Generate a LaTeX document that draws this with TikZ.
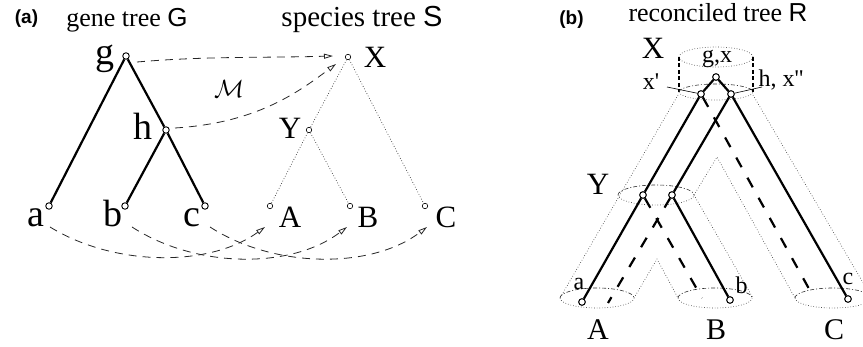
\documentclass[tikz,border=0pt]{standalone}
\usepackage{fontspec}
\setmainfont{Liberation Serif}
\setsansfont{Liberation Sans}
\usetikzlibrary{arrows.meta,calc}
\begin{document}
\begin{tikzpicture}[x=1pt,y=-1pt,
  gnode/.style={circle,draw,fill=white,inner sep=0pt,minimum size=6.5pt,line width=0.9pt},
  snode/.style={circle,draw,fill=white,inner sep=0pt,minimum size=5.5pt,line width=0.6pt},
  gedge/.style={line width=2.2pt},
  sedge/.style={line width=0.7pt,dotted,black!80},
  map/.style={dash pattern=on 8pt off 6pt,line width=0.8pt,black!85,
    -{Triangle[open,length=9pt,width=5pt]}},
  loss/.style={line width=2.2pt,dash pattern=on 11pt off 12pt},
  tube/.style={line width=0.65pt,dotted,black!75},
  backarc/.style={line width=0.6pt,dash pattern=on 4pt off 2pt on 1pt off 2pt,black!80},
  vdash/.style={line width=1.6pt,dash pattern=on 4pt off 2.5pt},
  leader/.style={line width=0.6pt},
  glab/.style={font=\fontsize{38}{40}\selectfont,inner sep=0pt},
  slab/.style={font=\fontsize{31}{33}\selectfont,inner sep=0pt},
  blab/.style={font=\fontsize{24}{26}\selectfont,inner sep=0pt},
  title/.style={font=\fontsize{26}{28}\selectfont,inner sep=0pt,anchor=base},
  panel/.style={font=\sffamily\bfseries\fontsize{19}{21}\selectfont,inner sep=0pt}
]
\useasboundingbox (0,0) rectangle (863,347);
\clip (0,0) rectangle (863,347);

% ---------------- titles ----------------
\node[panel] (pa) at (26.5,19) {(a)};
\node[panel] (pb) at (571.5,20) {(b)};
\node[title] (tG) at (127,27) {gene tree \textsf{G}};
\node[title,font=\fontsize{29}{31}\selectfont] (tS) at (362,27) {species tree \textsf{S}};
\node[title] (tR) at (718,22) {reconciled tree \textsf{R}};

% ---------------- (a) gene tree ----------------
\node[gnode] (g) at (126,56) {};
\node[gnode] (h) at (166,130) {};
\node[gnode] (a) at (49,206) {};
\node[gnode] (b) at (125,206) {};
\node[gnode] (c) at (205,206) {};
\draw[gedge] (g) -- (a);
\draw[gedge] (g) -- (h);
\draw[gedge] (h) -- (b);
\draw[gedge] (h) -- (c);
\node[glab] (lg) at (105,59) {g};
\node[glab] (lh) at (143,126.5) {h};
\node[glab] (la) at (36,217.5) {a};
\node[glab] (lb) at (112.5,213.5) {b};
\node[glab] (lc) at (191.5,217.5) {c};

% ---------------- (a) species tree ----------------
\node[snode] (X) at (348,57) {};
\node[snode] (Y) at (309,130) {};
\node[snode] (A) at (270,206) {};
\node[snode] (B) at (350,206) {};
\node[snode] (C) at (425,206) {};
\draw[sedge] (X) -- (Y);
\draw[sedge] (Y) -- (A);
\draw[sedge] (Y) -- (B);
\draw[sedge] (X) -- (C);
\node[slab] (lX) at (375,57.5) {X};
\node[slab] (lY) at (290,128.5) {Y};
\node[slab] (lA) at (290,217) {A};
\node[slab] (lB) at (368,217) {B};
\node[slab] (lC) at (446,217) {C};
\node[font=\fontsize{25}{27}\selectfont,inner sep=0pt] (lM) at (229,89.5) {$\mathcal{M}$};

% ---------------- (a) mapping ----------------
\draw[map] ([shift={(11,6)}]g.center) .. controls +(70,-6) and +(-70,2) .. ([shift={(-15,-1)}]X.center);
\draw[map] ([shift={(9,-2)}]h.center) .. controls +(80,-5) and +(-40,30) .. ([shift={(-12,7)}]X.center);
\draw[map] ([shift={(1,21)}]a.center) .. controls +(65,40) and +(-55,40) .. ([shift={(-5,21)}]A.center);
\draw[map] ([shift={(7,21)}]b.center) .. controls +(65,42) and +(-55,42) .. ([shift={(-3,21)}]B.center);
\draw[map] ([shift={(5,21)}]c.center) .. controls +(65,42) and +(-55,42) .. ([shift={(2,21)}]C.center);

% ---------------- (b) tubes ----------------
\draw[tube] (716,57) ellipse[x radius=37pt,y radius=10pt];
\draw[vdash] (679,57) -- (679,92);
\draw[vdash] (753,57) -- (753,92);
\draw[tube] (679,92) arc[start angle=180,end angle=360,x radius=37pt,y radius=8pt];
\draw[backarc] (679,92) arc[start angle=180,end angle=0,x radius=37pt,y radius=8pt];
\draw[tube] (678,95) -- (560,298);
\draw[tube] (694,195) -- (717,157) -- (795,298);
\draw[tube] (694,195) -- (753,298);
\draw[tube] (634,298) -- (657,259) -- (678,298);
\draw[tube] (753,95) -- (872,298);
% Y
\draw[tube] (618,195) arc[start angle=180,end angle=360,x radius=38pt,y radius=10pt];
\draw[backarc] (618,195) arc[start angle=180,end angle=0,x radius=38pt,y radius=10pt];
% A, B, C
\draw[tube] (560,298) arc[start angle=180,end angle=360,x radius=37pt,y radius=10pt];
\draw[backarc] (560,298) arc[start angle=180,end angle=0,x radius=37pt,y radius=10pt];
\draw[tube] (678,298) arc[start angle=180,end angle=360,x radius=37pt,y radius=10pt];
\draw[backarc] (678,298) arc[start angle=180,end angle=0,x radius=37pt,y radius=10pt];
\draw[tube] (795,298) arc[start angle=180,end angle=360,x radius=38pt,y radius=10pt];
\draw[backarc] (795,298) arc[start angle=180,end angle=0,x radius=38pt,y radius=10pt];

% ---------------- (b) reconciled gene tree ----------------
\node[gnode] (rg) at (716,77) {};
\node[gnode] (rx) at (701,94) {};
\node[gnode] (rh) at (731,94) {};
\node[gnode] (ryl) at (643,195) {};
\node[gnode] (ryr) at (672,195) {};
\node[gnode] (ra) at (582,302) {};
\node[gnode] (rb) at (730,300) {};
\node[gnode] (rc) at (848,299) {};
\coordinate (lossC) at (813,296);
\coordinate (lossB) at (702,298);
\coordinate (lossA) at (608,303);
\coordinate (ldx) at (667,87);
\coordinate (ldh) at (762,87);
\draw[loss] (rx) -- (lossC);
\draw[loss] (ryl) -- (lossB);
\draw[loss] (ryr) -- (lossA);
\draw[gedge] (rg) -- (rx);
\draw[gedge] (rg) -- (rh);
\draw[gedge] (rx) -- (ryl);
\draw[gedge] (ryl) -- (ra);
\draw[gedge] (rh) -- (ryr);
\draw[gedge] (ryr) -- (rb);
\draw[gedge] (rh) -- (rc);
\draw[leader] (rx) -- (ldx);
\draw[leader] (rh) -- (ldh);
\foreach \n in {rg,rx,rh,ryl,ryr,ra,rb,rc} \node[gnode] at (\n) {};

\node[blab] (lgx) at (717,59) {g,x};
\node[blab] (lxp) at (651,82) {x\textquotesingle};
\node[blab] (lhx) at (781,80) {h, x\textquotesingle\textquotesingle};
\node[slab] (lX2) at (653,48) {X};
\node[slab] (lY2) at (598,184) {Y};
\node[blab] (la2) at (579,284) {a};
\node[blab] (lb2) at (741.5,285) {b};
\node[blab] (lc2) at (848,279) {c};
\node[slab,font=\fontsize{30}{32}\selectfont] (lA2) at (598,330) {A};
\node[slab,font=\fontsize{30}{32}\selectfont] (lB2) at (716,330) {B};
\node[slab,font=\fontsize{30}{32}\selectfont] (lC2) at (834,330) {C};
\end{tikzpicture}
\end{document}
